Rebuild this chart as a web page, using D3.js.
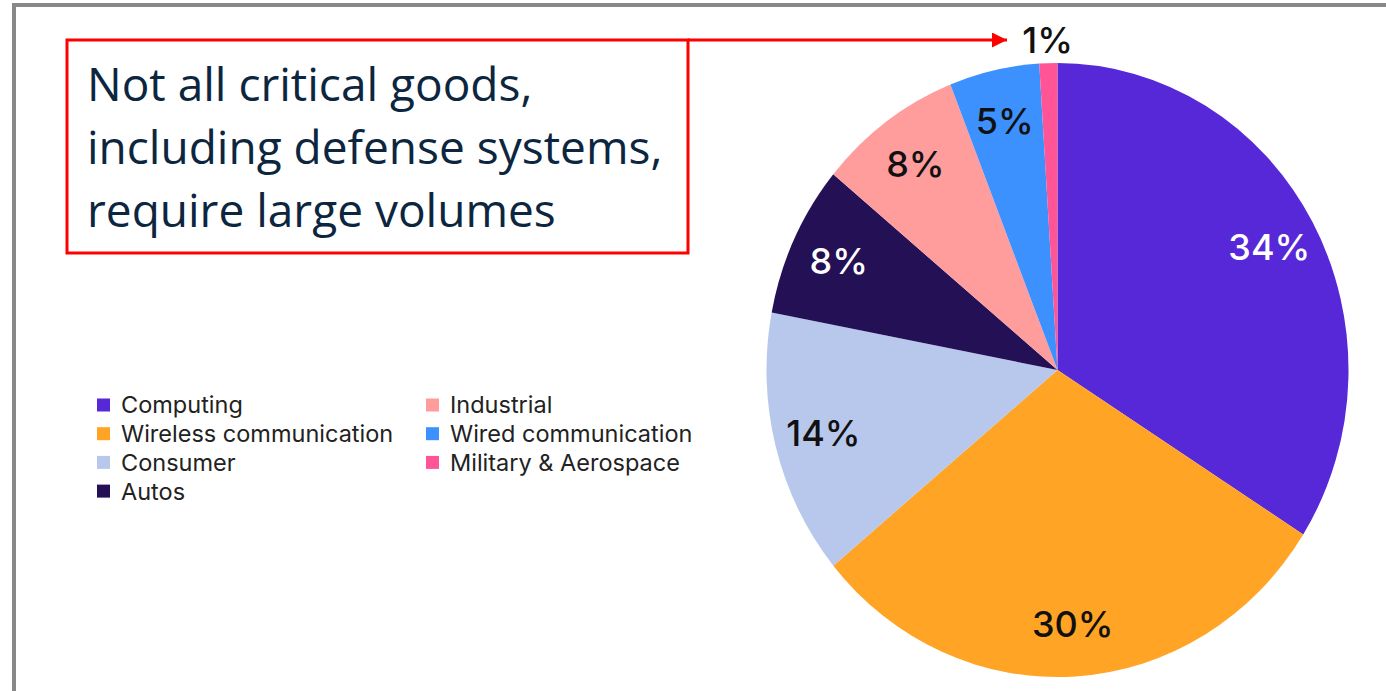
<!DOCTYPE html>
<html>
<head>
<meta charset="utf-8">
<script src="https://cdn.jsdelivr.net/npm/d3@7"></script>
<style>
  html, body { margin: 0; padding: 0; background: #fff; }
  svg { display: block; }
</style>
</head>
<body>
<div id="chart"></div>
<script>
const categories = ["Computing", "Wireless communication", "Consumer", "Autos", "Industrial", "Wired communication", "Military & Aerospace"];
const shares = [34, 30, 14, 8, 8, 5, 1];
const colors = ["#5628d8", "#ffa424", "#b8c8ec", "#241055", "#ff9c9c", "#3d91ff", "#ff5496"];
const labelColors = ["#fff", "#111", "#111", "#fff", "#111", "#111", "#111"];
const calloutLines = ["Not all critical goods,", "including defense systems,", "require large volumes"];

const width = 1386;
const height = 691;

const svg = d3.select("#chart")
  .append("svg")
  .attr("width", width)
  .attr("height", height);

// frame
svg.append("path")
  .attr("d", `M14,${height} L14,5 L${width},5`)
  .attr("fill", "none")
  .attr("stroke", "#888")
  .attr("stroke-width", 4);

// pie (source image is slightly squashed horizontally)
const center = { x: 1057.5, y: 370 };
const radius = 307;
const sx = 291 / 307;

const pie = d3.pie().sort(null).value(d => d);
const arcs = pie(shares);
const arc = d3.arc().innerRadius(0).outerRadius(radius);

const g = svg.append("g")
  .attr("transform", `translate(${center.x},${center.y}) scale(${sx},1)`);

g.selectAll("path")
  .data(arcs)
  .enter()
  .append("path")
  .attr("d", arc)
  .attr("fill", (d, i) => colors[i]);

// percent labels
const labelArc = d3.arc().innerRadius(255).outerRadius(255);
const outerArc = d3.arc().innerRadius(330).outerRadius(330);

svg.append("g")
  .selectAll("text")
  .data(arcs)
  .enter()
  .append("text")
  .attr("x", (d, i) => center.x + sx * (i === 6 ? outerArc : labelArc).centroid(d)[0])
  .attr("y", (d, i) => center.y + (i === 6 ? outerArc : labelArc).centroid(d)[1])
  .attr("dy", "0.36em")
  .attr("text-anchor", "middle")
  .attr("font-family", "Inter, Roboto, sans-serif")
  .attr("font-weight", 500)
  .attr("font-size", "36px")
  .attr("fill", (d, i) => labelColors[i])
  .text(d => d.data + "%");

// callout box + arrow
svg.append("defs").append("marker")
  .attr("id", "arrow")
  .attr("viewBox", "0 0 10 10")
  .attr("refX", 10).attr("refY", 5)
  .attr("markerWidth", 5.5).attr("markerHeight", 5)
  .attr("markerUnits", "strokeWidth")
  .attr("orient", "auto")
  .append("path")
  .attr("d", "M0,0 L10,5 L0,10 Z")
  .attr("fill", "#f00");

svg.append("rect")
  .attr("x", 67).attr("y", 40)
  .attr("width", 621).attr("height", 213)
  .attr("fill", "none")
  .attr("stroke", "#f00")
  .attr("stroke-width", 3);

svg.append("line")
  .attr("x1", 688).attr("y1", 40)
  .attr("x2", 1007).attr("y2", 40)
  .attr("stroke", "#f00")
  .attr("stroke-width", 3)
  .attr("marker-end", "url(#arrow)");

svg.append("g")
  .selectAll("text")
  .data(calloutLines)
  .enter()
  .append("text")
  .attr("x", 87)
  .attr("y", (d, i) => 101 + i * 63)
  .attr("font-family", "'Open Sans', 'Noto Sans', sans-serif")
  .attr("font-size", "46px")
  .attr("fill", "#0d2640")
  .text(d => d);

// legend
const legend = svg.append("g")
  .attr("font-family", "Inter, Roboto, sans-serif")
  .attr("font-size", "23.5px")
  .attr("fill", "#222");

const item = legend.selectAll("g")
  .data(categories)
  .enter()
  .append("g")
  .attr("transform", (d, i) => i < 4
    ? `translate(97, ${405 + i * 28.7})`
    : `translate(426, ${405 + (i - 4) * 28.7})`);

item.append("rect")
  .attr("x", 0).attr("y", -6.5)
  .attr("width", 13).attr("height", 13)
  .attr("fill", (d, i) => colors[i]);

item.append("text")
  .attr("x", 24)
  .attr("dy", "0.36em")
  .text(d => d);
</script>
</body>
</html>
